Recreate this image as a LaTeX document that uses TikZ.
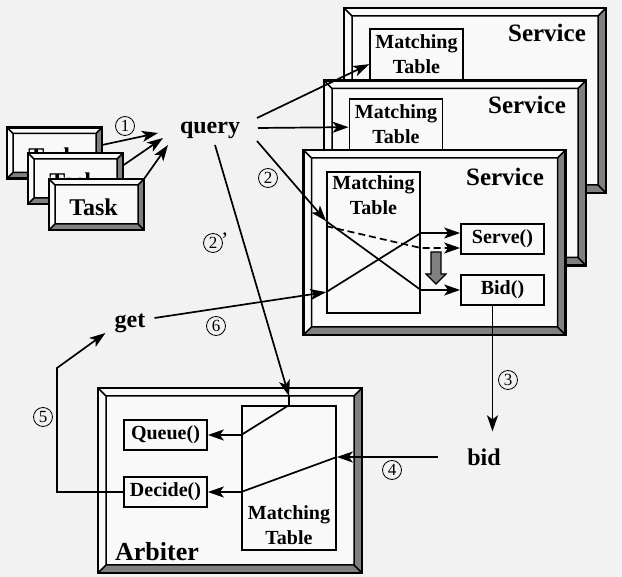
\documentclass[tikz,border=0pt]{standalone}
\usepackage{fontspec}
\setmainfont{Liberation Serif}
\usetikzlibrary{arrows.meta}
\definecolor{paper}{HTML}{F2F2F2}
\definecolor{boxfill}{HTML}{F9F9F9}
\definecolor{shadefill}{gray}{0.5}
\tikzset{
  % picture-frame box: double border, bevelled corners, dark right/bottom strips
  bevel/.style={rectangle, draw, line width=2.2pt, fill=boxfill, inner sep=0pt, outer sep=0pt,
    path picture={
      \path (path picture bounding box.north west) coordinate (bNW)
            (path picture bounding box.north east) coordinate (bNE)
            (path picture bounding box.south west) coordinate (bSW)
            (path picture bounding box.south east) coordinate (bSE);
      \path ([shift={(#1,-#1)}]bNW) coordinate (iNW)
            ([shift={(-#1,-#1)}]bNE) coordinate (iNE)
            ([shift={(#1,#1)}]bSW) coordinate (iSW)
            ([shift={(-#1,#1)}]bSE) coordinate (iSE);
      \fill[shadefill] (bNE) -- (bSE) -- (bSW) -- (iSW) -- (iSE) -- (iNE) -- cycle;
      \draw[line width=1.5pt] (iNW) -- (iNE) -- (iSE) -- (iSW) -- cycle
        (bNW) -- (iNW) (bNE) -- (iNE) (bSW) -- (iSW) (bSE) -- (iSE);
    }},
  taskbox/.style={bevel=6pt, minimum width=95pt, minimum height=51pt},
  mt/.style={rectangle, draw, line width=1.7pt, fill=boxfill, inner sep=0pt,
    minimum width=93pt, minimum height=141pt},
  mtlbl/.style={font=\fontsize{20}{25}\selectfont\bfseries, align=center, inner sep=0pt},
  method/.style={rectangle, draw, line width=1.7pt, fill=boxfill, inner sep=0pt,
    minimum width=83pt, minimum height=30pt, font=\fontsize{20}{24}\selectfont\bfseries},
  svclbl/.style={font=\fontsize{25}{30}\selectfont\bfseries, inner sep=0pt},
  word/.style={font=\fontsize{24}{28}\selectfont\bfseries, inner sep=0pt},
  num/.style={circle, draw, line width=0.8pt, minimum size=19pt, inner sep=0pt,
    font=\fontsize{17}{17}\selectfont},
  conn/.style={line width=1.7pt, -{Stealth[length=16pt,width=11pt,inset=4pt]}},
}
\begin{document}
\begin{tikzpicture}[x=1pt,y=-1pt]
\fill[paper] (0,0) rectangle (622,577);
\useasboundingbox (0,0) rectangle (622,577);

% ---- three stacked services, back to front ----
\node[bevel=8pt, minimum width=262pt, minimum height=185pt] (svc1) at (475,100.5) {};
\node[mt] (MT1) at (416.5,99.5) {};
\node[mtlbl, anchor=north] (MT1l) at ([yshift=-6pt]MT1.north) {Matching\\Table};
\node[svclbl] (svc1l) at (547,33) {Service};

\node[bevel=8pt, minimum width=262pt, minimum height=185pt] (svc2) at (455,173) {};
\node[mt] (MT2) at (396,169.5) {};
\node[mtlbl, anchor=north] (MT2l) at ([yshift=-6pt]MT2.north) {Matching\\Table};
\node[svclbl] (svc2l) at (527,105) {Service};

\node[bevel=8pt, minimum width=262pt, minimum height=185pt] (svc3) at (434.5,242.5) {};
\node[mt] (MT3) at (373.5,242.5) {};
\node[mtlbl, anchor=north] (MT3l) at ([yshift=-4pt]MT3.north) {Matching\\Table};
\node[svclbl] (svc3l) at (505,177) {Service};
\node[method] (Serve) at (502.5,239) {Serve()};
\node[method] (Bid) at (502.5,290) {Bid()};
% hatched block arrow from Serve() down to Bid()
\filldraw[fill=shadefill, line width=1.2pt]
  (431,252) -- (441,252) -- (441,274) -- (446,274) -- (436,284) -- (426,274) -- (431,274) -- cycle;

% ---- stacked tasks ----
\node[taskbox] (T1) at (54.5,153) {};
\node[word] (T1l) at ([shift={(-2pt,-3pt)}]T1.center) {Task};
\node[taskbox] (T2) at (75.5,178.5) {};
\node[word] (T2l) at ([shift={(-2pt,-3pt)}]T2.center) {Task};
\node[taskbox] (T3) at (96.5,204.5) {};
\node[word] (T3l) at ([shift={(-3pt,-3pt)}]T3.center) {Task};

% ---- messages ----
\node[word] (query) at (210,130) {query};
\node[word] (get) at (130,323) {get};
\node[word] (bid) at (484,457) {bid};

% ---- arbiter ----
\node[bevel=8pt, minimum width=264pt, minimum height=185pt] (arb) at (230,480.5) {};
\node[mt, minimum width=94pt, minimum height=144pt] (AMT) at (289,478) {};
\node[mtlbl, anchor=south] (AMTl) at ([yshift=6pt]AMT.south) {Matching\\Table};
\node[method] (Queue) at (165.5,435) {Queue()};
\node[method] (Decide) at (165.5,492) {Decide()};
\node[svclbl, font=\fontsize{26}{30}\selectfont\bfseries] (arbl) at (157,552) {Arbiter};

% ---- connectors ----
% (1) tasks send query
\draw[conn] ([yshift=8pt]T1.east) -- ([shift={(-52pt,-3pt)}]query.center);
\draw[conn] ([yshift=13pt]T2.east) -- ([shift={(-47pt,-8pt)}]query.center);
\draw[conn] (T3.north east) -- ([shift={(-42pt,-15pt)}]query.center);

% query to the matching tables of each service
\draw[conn] ([shift={(47pt,12pt)}]query.center) -- ([yshift=-36pt]MT1.north west);
\draw[conn] ([shift={(48pt,2pt)}]query.center) -- ([yshift=-29pt]MT2.north west);

% (2) query into the front service, on to Bid()
\coordinate (m2) at ([yshift=-50pt]MT3.north west);
\draw[conn] ([shift={(47pt,-11pt)}]query.center) -- (m2);
\draw[conn] (m2) -- (MT3.east |- Bid.west) -- (Bid.west);
\coordinate (sv1) at ([yshift=6pt]Serve.west);
\coordinate (sv2) at ([yshift=-9pt]Serve.west);
\draw[conn, dash pattern=on 7pt off 4pt] ([yshift=-5pt]m2) -- (MT3.east |- sv2) -- (sv2);

% (6) get into the front service, on to Serve()
\coordinate (m6) at ([yshift=-121pt]MT3.north west);
\draw[conn] ([shift={(9pt,5pt)}]get.east) -- (m6);
\draw[conn] (m6) -- (MT3.east |- sv1) -- (sv1);

% (3) Bid() emits bid
\coordinate (b3) at ([xshift=-10pt]Bid.south);
\draw[conn, shorten >=17pt] (b3) -- (b3 |- bid.north);

% (4) bid reaches Decide()
\coordinate (m4) at (AMT.east |- bid.west);
\draw[conn] ([xshift=-29pt]bid.west) -- (m4);
\draw[conn] (m4) -- (AMT.west |- Decide.east) -- (Decide.east);

% (2') query reaches Queue()
\coordinate (m2p) at ([yshift=9pt]AMT.north);
\draw[conn] ([shift={(5pt,-15pt)}]query.center) -- (m2p);
\draw[conn] (m2p) -- (AMT.north) -- (AMT.west |- Queue.east) -- (Queue.east);

% (5) Decide() issues get
\coordinate (c5) at (57,368);
\draw[conn] (Decide.west) -| (c5) -- ([shift={(-9pt,-10pt)}]get.west);

% ---- step numbers ----
\node[num] (n1) at (125,126) {1};
\node[num] (n2) at (268,178) {2};
\node[num, label={[inner sep=0pt, anchor=north west, xshift=1pt, yshift=3pt, font=\fontsize{22}{22}\selectfont]north east:’}] (n2p) at (213,243) {2};
\node[num] (n3) at (508,380) {3};
\node[num] (n4) at (392,470) {4};
\node[num] (n5) at (43,417) {5};
\node[num] (n6) at (216,326) {6};
\end{tikzpicture}
\end{document}
